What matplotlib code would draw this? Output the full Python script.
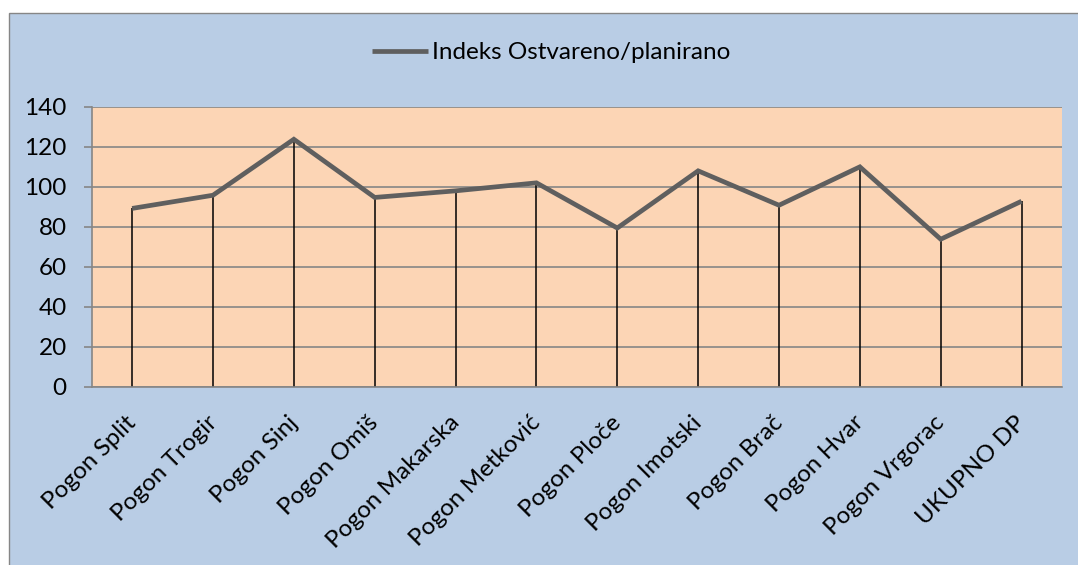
import matplotlib
matplotlib.use("Agg")
import matplotlib.pyplot as plt
from matplotlib.patches import Rectangle
from matplotlib.transforms import ScaledTranslation

categories = ["Pogon Split", "Pogon Trogir", "Pogon Sinj", "Pogon Omiš", "Pogon Makarska",
              "Pogon Metković", "Pogon Ploče", "Pogon Imotski", "Pogon Brač", "Pogon Hvar",
              "Pogon Vrgorac", "UKUPNO DP"]
values = [89.1, 95.7, 123.7, 94.6, 97.9, 101.9, 79.3, 107.9, 90.7, 109.9, 73.7, 92.7]
series_name = "Indeks Ostvareno/planirano"
yticks = [0, 20, 40, 60, 80, 100, 120, 140]

plt.rcParams['font.family'] = ['Lato', 'DejaVu Sans']
FS = 17.5

W, H = 1078, 565
fig = plt.figure(figsize=(W / 100, H / 100), dpi=100)
fig.patch.set_facecolor("white")

# chart area box (cropped at right and bottom)
box = Rectangle((8.5 / W, -0.05), 1.2, 1 - 12.7 / H + 0.05,
                transform=fig.transFigure, facecolor="#b9cde5",
                edgecolor="#868686", linewidth=1.0, zorder=-10)
fig.patches.append(box)

left, right = 91.7 / W, 1062 / W
bottom, top = 1 - 386.5 / H, 1 - 106.7 / H
ax = fig.add_axes([left, bottom, right - left, top - bottom])
ax.set_zorder(1)
ax.set_facecolor("#fcd5b5")

x = list(range(len(categories)))
ax.vlines(x, 0, values, colors="black", linewidth=1.1, zorder=2)
line, = ax.plot(x, values, color="#5f5f5f", linewidth=3.4, solid_joinstyle="miter",
                solid_capstyle="butt", zorder=3, label=series_name)

ax.set_xlim(-0.5, len(categories) - 0.5)
ax.set_ylim(0, 140)
ax.set_yticks(yticks)
ax.yaxis.grid(True, color="#868686", linewidth=1.2)
ax.set_axisbelow(True)

for s in ["top", "right"]:
    ax.spines[s].set_visible(False)
for s in ["left", "bottom"]:
    ax.spines[s].set_color("#868686")
    ax.spines[s].set_linewidth(1.2)

ax.tick_params(axis="y", direction="out", length=6, width=1.2, color="#868686",
               pad=12, labelsize=FS)
ax.set_xticks(x)
ax.set_xticklabels(categories, rotation=45, ha="right", va="baseline",
                   rotation_mode="anchor", fontsize=FS)
ax.tick_params(axis="x", length=0, pad=27)
shift = ScaledTranslation(5 / 100, 0, fig.dpi_scale_trans)
for lbl in ax.get_xticklabels():
    lbl.set_transform(lbl.get_transform() + shift)

fig.legend(handles=[line], loc="center left", bbox_to_anchor=(372 / W, 1 - 52.7 / H),
           frameon=False, fontsize=FS, handlelength=2.3, handletextpad=0.15,
           borderpad=0, borderaxespad=0)

fig.savefig("out.png", dpi=100, facecolor=fig.get_facecolor())
